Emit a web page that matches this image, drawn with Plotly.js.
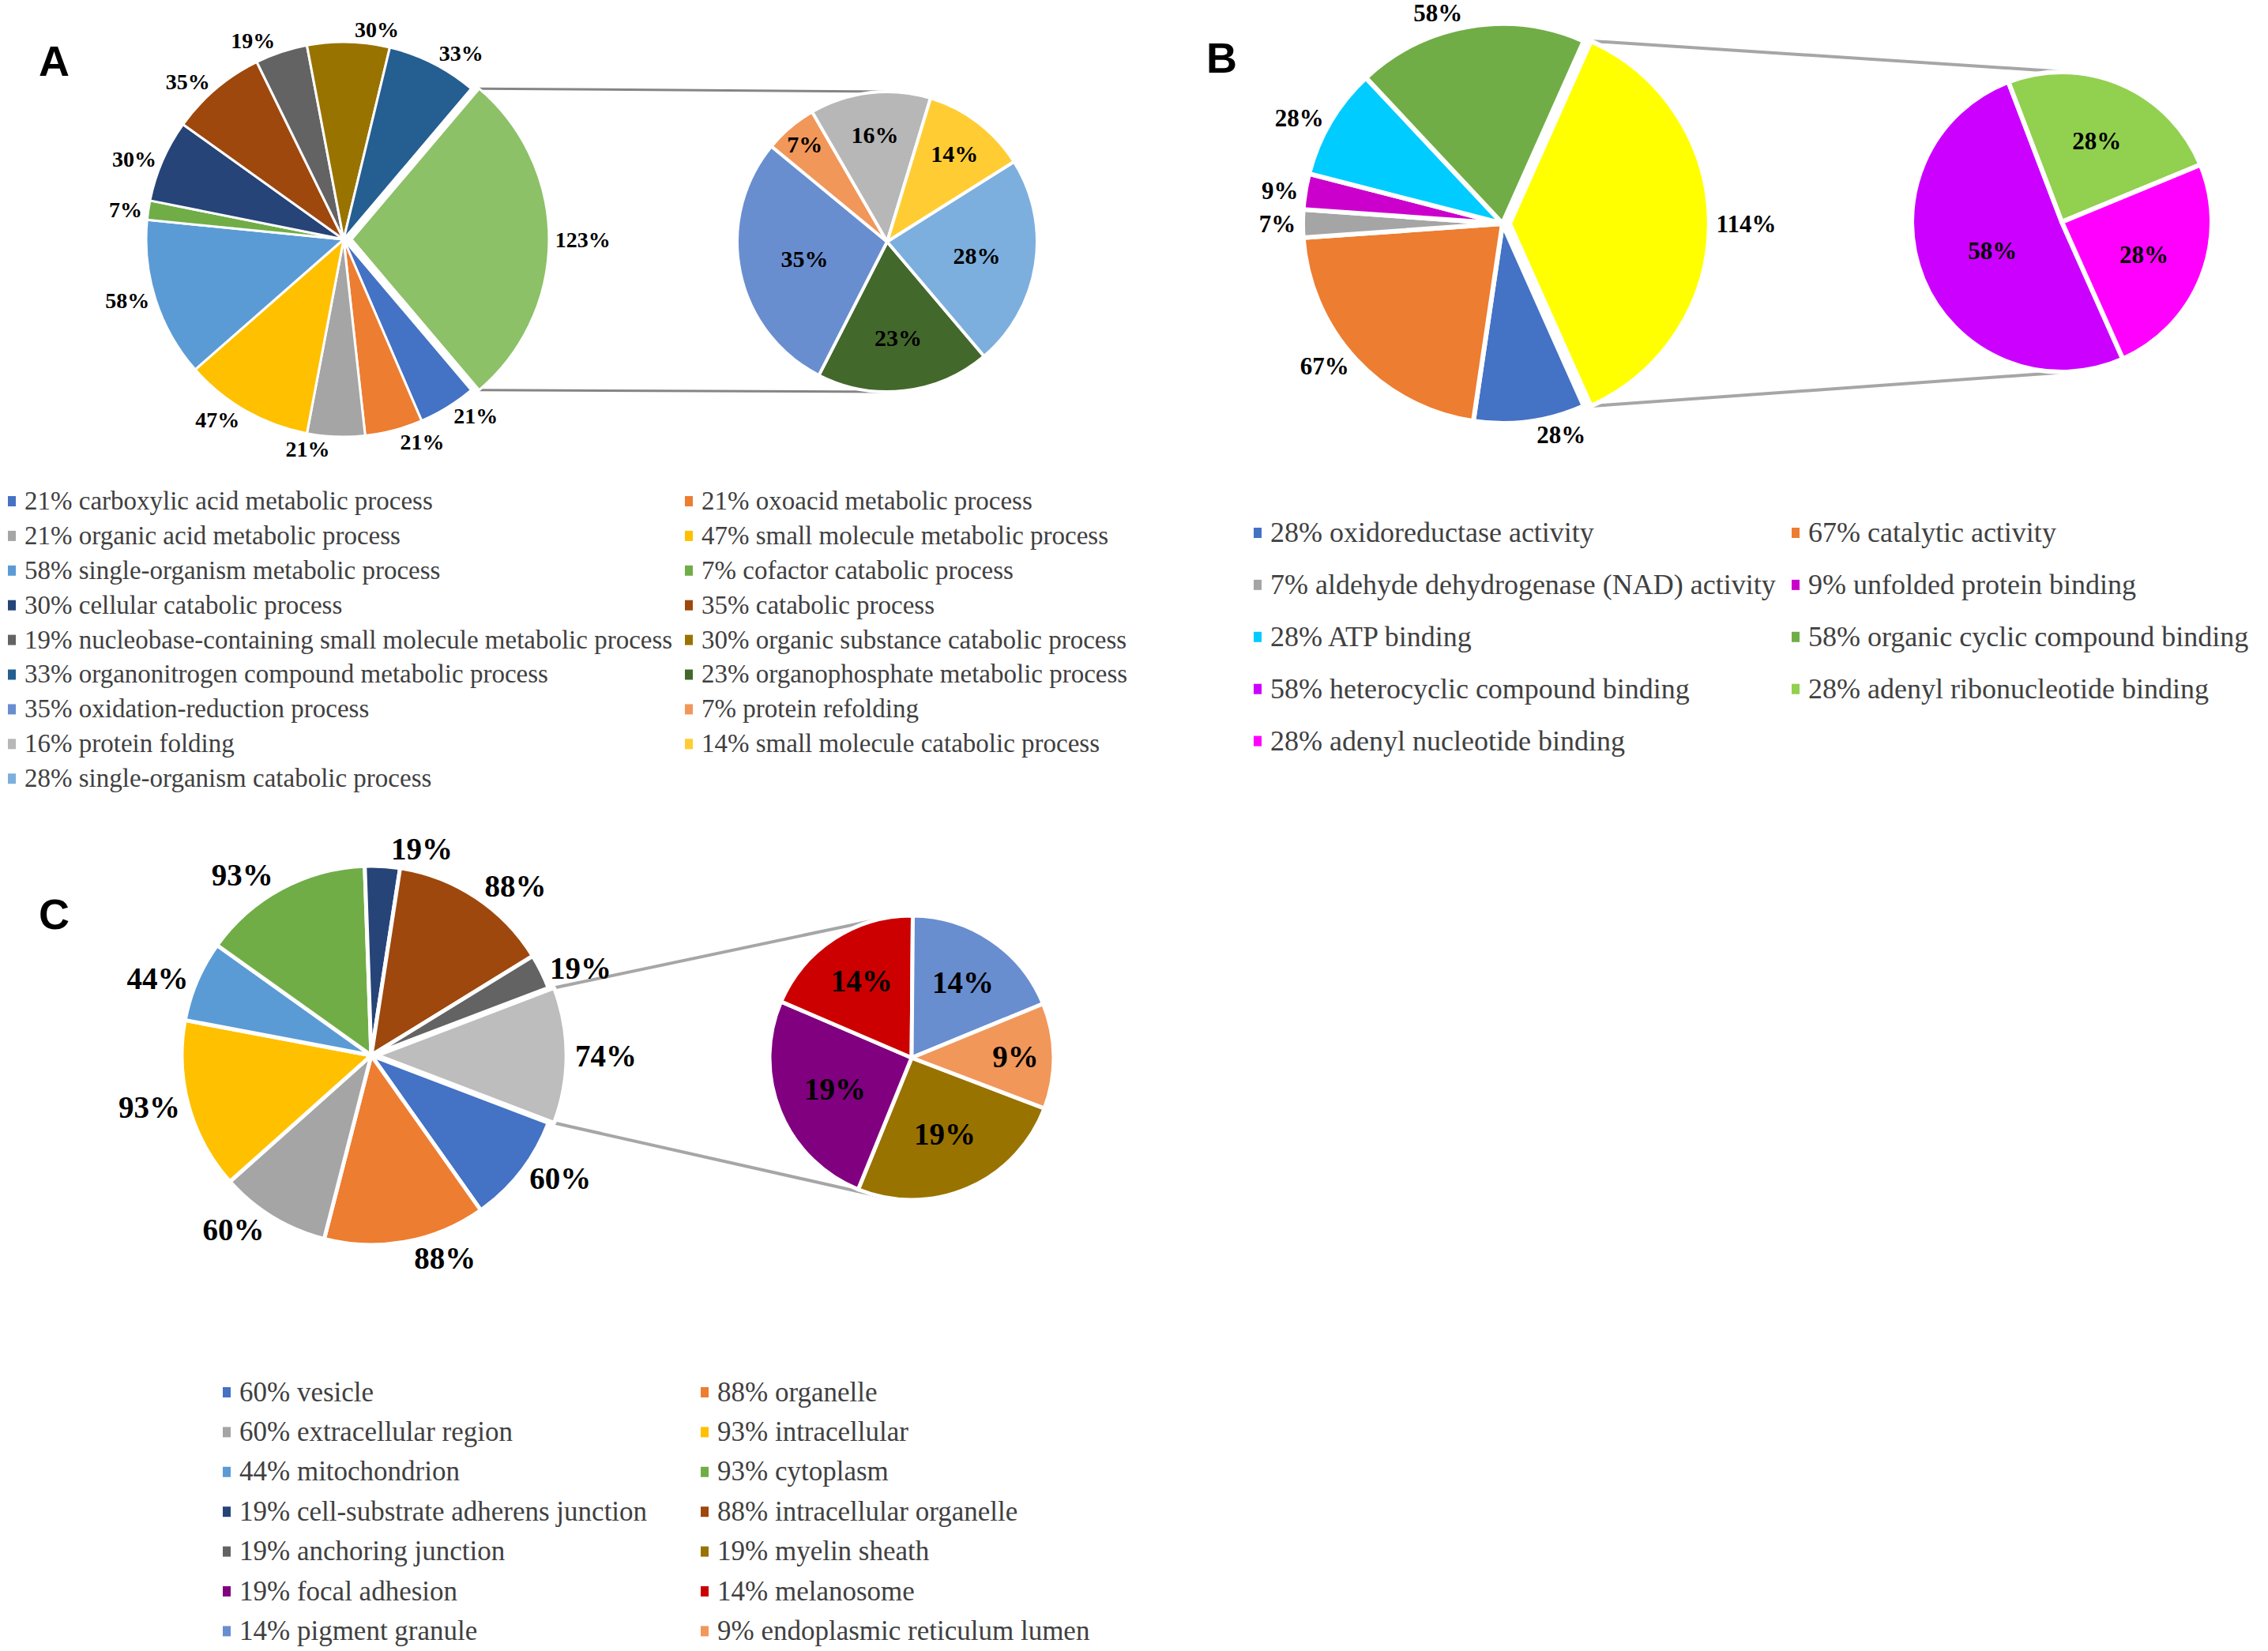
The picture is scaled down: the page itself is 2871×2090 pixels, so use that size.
<!DOCTYPE html>
<html><head><meta charset="utf-8">
<script src="https://cdn.plot.ly/plotly-3.0.1.min.js"></script>
<style>html,body{margin:0;padding:0;background:#fff;}#chart{width:2871px;height:2090px;}</style>
</head><body><div id="chart"></div>
<script>
// ---------------- Panel A : biological process ----------------
const aMainLabels = ['carboxylic acid metabolic process','oxoacid metabolic process','organic acid metabolic process','small molecule metabolic process','single-organism metabolic process','cofactor catabolic process','cellular catabolic process','catabolic process','nucleobase-containing small molecule metabolic process','organic substance catabolic process','organonitrogen compound metabolic process'];
const aMainValues = [21,21,21,47,58,7,30,35,19,30,33];
const aMainColors = ['#4472C4','#ED7D31','#A5A5A5','#FFC000','#5B9BD5','#70AD47','#264478','#9E480E','#636363','#997300','#255E91'];
const aOtherValue = 123;
const aOtherColor = '#8CC168';
const aSubLabels = ['organophosphate metabolic process','oxidation-reduction process','protein refolding','protein folding','small molecule catabolic process','single-organism catabolic process'];
const aSubValues = [23,35,7,16,14,28];
const aSubColors = ['#43682B','#698ED0','#F1975A','#B7B7B7','#FFCD33','#7CAFDD'];

// ---------------- Panel B : molecular function ----------------
const bMainLabels = ['oxidoreductase activity','catalytic activity','aldehyde dehydrogenase (NAD) activity','unfolded protein binding','ATP binding','organic cyclic compound binding'];
const bMainValues = [28,67,7,9,28,58];
const bMainColors = ['#4472C4','#ED7D31','#A5A5A5','#CC00CC','#00CCFF','#70AD47'];
const bOtherValue = 114;
const bOtherColor = '#FFFF00';
const bSubLabels = ['heterocyclic compound binding','adenyl ribonucleotide binding','adenyl nucleotide binding'];
const bSubValues = [58,28,28];
const bSubColors = ['#CC00FF','#92D050','#FF00FF'];

// ---------------- Panel C : cellular component ----------------
const cMainLabels = ['vesicle','organelle','extracellular region','intracellular','mitochondrion','cytoplasm','cell-substrate adherens junction','intracellular organelle','anchoring junction'];
const cMainValues = [60,88,60,93,44,93,19,88,19];
const cMainColors = ['#4472C4','#ED7D31','#A5A5A5','#FFC000','#5B9BD5','#70AD47','#264478','#9E480E','#636363'];
const cOtherValue = 74;
const cOtherColor = '#BDBDBD';
const cSubLabels = ['myelin sheath','focal adhesion','melanosome','pigment granule','endoplasmic reticulum lumen'];
const cSubValues = [19,19,14,14,9];
const cSubColors = ['#997300','#800080','#CC0000','#698ED0','#F1975A'];

// ---------------- layout geometry (pixels) ----------------
const W = 2871, H = 2090;
const SERIF = 'Liberation Serif, Times New Roman, serif';
const panels = [
  {id:'A', mainLabels:aMainLabels, mainValues:aMainValues, mainColors:aMainColors, otherValue:aOtherValue, otherColor:aOtherColor,
   subLabels:aSubLabels, subValues:aSubValues, subColors:aSubColors,
   main:{cx:435, cy:303, r:250, pull:0.04, line:3, font:28, separateLabels:[9]},
   sub:{cx:1123, cy:306, r:190, line:4, font:30},
   letter:{x:68, y:77}, conn:{color:'#858585', width:3},
   legend:{cols:[29,886], y0:634, dy:43.9, font:33}},
  {id:'B', mainLabels:bMainLabels, mainValues:bMainValues, mainColors:bMainColors, otherValue:bOtherValue, otherColor:bOtherColor,
   subLabels:bSubLabels, subValues:bSubValues, subColors:bSubColors,
   main:{cx:1902, cy:283, r:253, pull:0.035, line:6, font:31, separateLabels:[]},
   sub:{cx:2610, cy:281, r:190, line:6, font:31},
   letter:{x:1546, y:73}, conn:{color:'#a6a6a6', width:4},
   legend:{cols:[1606,2287], y0:674, dy:65.9, font:36}},
  {id:'C', mainLabels:cMainLabels, mainValues:cMainValues, mainColors:cMainColors, otherValue:cOtherValue, otherColor:cOtherColor,
   subLabels:cSubLabels, subValues:cSubValues, subColors:cSubColors,
   main:{cx:470, cy:1336, r:240, pull:0.03, line:5, font:39, separateLabels:[]},
   sub:{cx:1154, cy:1339, r:180, line:5, font:39},
   letter:{x:68, y:1157}, conn:{color:'#a6a6a6', width:4},
   legend:{cols:[301,906], y0:1762, dy:50.4, font:35}}
];

const px = v => v / W;
const py = v => 1 - v / H;
function domainOf(cx, cy, r, pull) {
  const h = r * (1 + pull);
  return {x:[px(cx - h), px(cx + h)], y:[py(cy + h), py(cy - h)]};
}
function tangent(P, C, r, upper) {
  const dx = P[0] - C[0], dy = P[1] - C[1];
  const d = Math.hypot(dx, dy);
  const phi = Math.atan2(dy, dx), a = Math.acos(r / d);
  const t1 = [C[0] + r * Math.cos(phi + a), C[1] + r * Math.sin(phi + a)];
  const t2 = [C[0] + r * Math.cos(phi - a), C[1] + r * Math.sin(phi - a)];
  if (upper) return t1[1] < t2[1] ? t1 : t2;
  return t1[1] > t2[1] ? t1 : t2;
}

const traces = [], shapes = [], annotations = [];
panels.forEach(p => {
  const sum = a => a.reduce((s, v) => s + v, 0);
  const mainVals = p.mainValues.concat([p.otherValue]);
  const mainLabs = p.mainLabels.concat(['other (' + p.id + ')']);
  const total = sum(mainVals);
  const otherAngle = 360 * p.otherValue / total;
  const start = 90 + otherAngle / 2;
  const fontMain = {family:SERIF, size:p.main.font, color:'#000', weight:'bold'};
  const fontSub = {family:SERIF, size:p.sub.font, color:'#000', weight:'bold'};
  const pulls = mainVals.map((v, i) => i === mainVals.length - 1 ? p.main.pull : 0);
  const dom = domainOf(p.main.cx, p.main.cy, p.main.r, p.main.pull);
  const sep = p.main.separateLabels;

  traces.push({
    type:'pie', name:p.id + ' main', sort:false, direction:'clockwise', rotation:start,
    values:mainVals, labels:mainLabs,
    marker:{colors:p.mainColors.concat([p.otherColor]), line:{color:'#ffffff', width:p.main.line}},
    pull:pulls,
    textposition:mainVals.map((v, i) => sep.includes(i) ? 'none' : 'outside'),
    texttemplate:'%{value}%', textfont:fontMain, outsidetextfont:fontMain,
    showlegend:false, domain:dom
  });
  if (sep.length) {
    // transparent twin of the main pie carrying the labels that would otherwise collide
    traces.push({
      type:'pie', name:p.id + ' main labels', sort:false, direction:'clockwise', rotation:start,
      values:mainVals, labels:mainLabs.map(l => l + ' *'),
      marker:{colors:mainVals.map(() => 'rgba(0,0,0,0)'), line:{width:0}},
      pull:pulls,
      textposition:mainVals.map((v, i) => sep.includes(i) ? 'outside' : 'none'),
      texttemplate:'%{value}%', textfont:fontMain, outsidetextfont:fontMain,
      showlegend:false, domain:dom
    });
  }
  traces.push({
    type:'pie', name:p.id + ' sub', sort:false, direction:'clockwise', rotation:start,
    values:p.subValues, labels:p.subLabels,
    marker:{colors:p.subColors, line:{color:'#ffffff', width:p.sub.line}},
    textposition:'inside', insidetextorientation:'horizontal',
    texttemplate:'%{value}%', textfont:fontSub, insidetextfont:fontSub,
    showlegend:false, domain:domainOf(p.sub.cx, p.sub.cy, p.sub.r, 0)
  });

  // series lines from the "other" slice to the secondary pie
  const off = p.main.pull * p.main.r;
  const t1 = (90 - otherAngle / 2) * Math.PI / 180, t2 = (90 + otherAngle / 2) * Math.PI / 180;
  const Ptop = [p.main.cx + off + p.main.r * Math.sin(t1), p.main.cy - p.main.r * Math.cos(t1)];
  const Pbot = [p.main.cx + off + p.main.r * Math.sin(t2), p.main.cy - p.main.r * Math.cos(t2)];
  const C = [p.sub.cx, p.sub.cy];
  const Ttop = tangent(Ptop, C, p.sub.r, true), Tbot = tangent(Pbot, C, p.sub.r, false);
  [[Ptop, Ttop], [Pbot, Tbot]].forEach(([a, b]) => shapes.push({
    type:'line', xref:'paper', yref:'paper', x0:px(a[0]), y0:py(a[1]), x1:px(b[0]), y1:py(b[1]),
    line:{color:p.conn.color, width:p.conn.width}, layer:'below'
  }));

  // panel letter
  annotations.push({xref:'paper', yref:'paper', x:px(p.letter.x), y:py(p.letter.y), xanchor:'center', yanchor:'middle',
    showarrow:false, text:p.id, font:{family:'Liberation Sans, Arial, sans-serif', size:54, color:'#000', weight:'bold'}});

  // two-column legend
  const labs = p.mainLabels.concat(p.subLabels);
  const vals = p.mainValues.concat(p.subValues);
  const cols = p.mainColors.concat(p.subColors);
  labs.forEach((lab, k) => {
    const row = Math.floor(k / 2), col = k % 2;
    const tx = p.legend.cols[col], ty = p.legend.y0 + row * p.legend.dy;
    annotations.push({xref:'paper', yref:'paper', x:px(tx), y:py(ty), xanchor:'left', yanchor:'middle',
      showarrow:false, text:vals[k] + '% ' + lab, font:{family:SERIF, size:p.legend.font, color:'#404040'}});
    shapes.push({type:'rect', xref:'paper', yref:'paper', x0:px(tx - 19), x1:px(tx - 9), y0:py(ty + 7), y1:py(ty - 6),
      fillcolor:cols[k], line:{width:0}});
  });
});

Plotly.newPlot('chart', traces, {
  width:W, height:H, margin:{l:0, r:0, t:0, b:0}, paper_bgcolor:'#ffffff', plot_bgcolor:'#ffffff',
  showlegend:false, shapes:shapes, annotations:annotations
}, {staticPlot:true});
</script></body></html>
